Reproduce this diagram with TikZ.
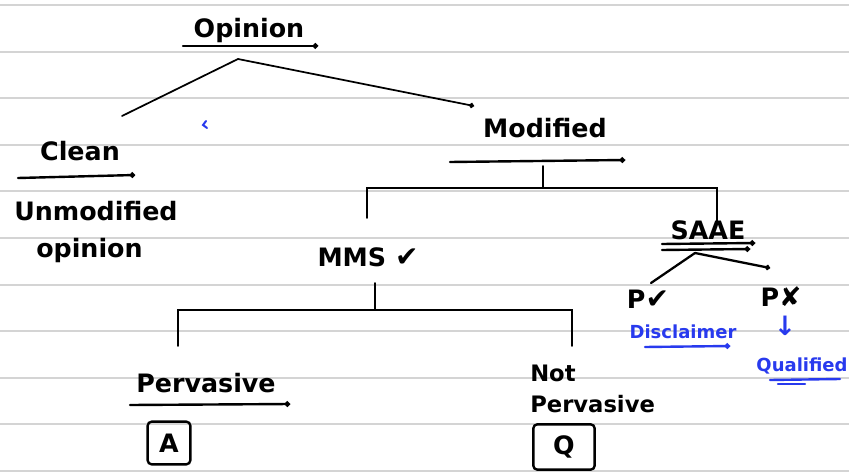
\documentclass[tikz,border=0pt]{standalone}
\usepackage{fontspec}
\setmainfont{DejaVu Sans}
\newfontfamily\symfont{DejaVu Sans}
\usetikzlibrary{arrows.meta}
\definecolor{penblue}{RGB}{40,58,238}
\definecolor{rulegray}{RGB}{212,212,212}
\tikzset{
  word/.style={inner sep=0.75pt, font=\bfseries\fontsize{19}{22}\selectfont},
  blueword/.style={word, text=penblue, font=\bfseries\fontsize{13.5}{15}\selectfont},
  inkline/.style={line width=1.3pt, line cap=round},
  dotline/.style={inkline, -{Circle[length=3.8pt]}},
  underink/.style={line width=1.8pt, line cap=round, -{Circle[length=4pt]}},
  inkbox/.style={word, draw, line width=1.8pt, rounded corners=3pt},
}
\newcommand{\yes}{{\symfont\mdseries\fontsize{21}{22}\selectfont ✔}}
\newcommand{\no}{{\symfont\mdseries\fontsize{20}{22}\selectfont ✘}}
\begin{document}
\begin{tikzpicture}[x=0.75pt,y=0.75pt,yscale=-1,xscale=1]
\fill[white] (0,0) rectangle (849,474);
\useasboundingbox (0,0) rectangle (849,474);

%Ruled paper
\foreach \i in {0,...,10}
  \draw[rulegray, line width=1.5pt] (0,5+46.6*\i) -- (849,5+46.6*\i);

% Text Node
\node[word] (opinion) at (249,31) {Opinion};
% Text Node
\node[word] (clean) at (80,151) {Clean};
% Text Node
\node[word, anchor=west] (unmod) at (13,211) {Unmodified};
% Text Node
\node[word, anchor=west] (unmodop) at (35,251) {opinion};
% Text Node
\node[word] (modified) at (545,128) {Modified};
% Text Node
\node[word] (mmsu) at (368,257) {MMS \yes};
% Text Node
\node[word] (saae) at (708,230) {SAAE};
% Text Node
\node[word] (pyes) at (648,299) {P\yes};
% Text Node
\node[word] (pno) at (781,297) {P\no};
% Text Node
\node[blueword] (disclaimer) at (683,332) {Disclaimer};
% Text Node
\node[blueword] (down) at (785,326) {\symfont\fontsize{20}{22}\selectfont ↓};
% Text Node
\node[blueword] (qualified) at (802,366) {Qualified};
% Text Node
\node[word] (pervasive) at (206,383) {Pervasive};
% Text Node
\node[word, anchor=north west, align=left, font=\bfseries\fontsize{17}{20}\selectfont] (notpervasive) at (529,364) {Not\\[3pt]Pervasive};
%Boxes
\node[inkbox, minimum width=32pt, minimum height=32pt] (adverse) at (169,443) {A};
\node[inkbox, minimum width=46pt, minimum height=34pt] (qualbox) at (564,447) {Q};

%Underlines
\draw[underink] (183,46) -- (318,46);
\draw[underink] (18,178) -- (135,175);
\draw[underink] (450,162) -- (625,160);
\draw[underink] (662,244) -- (755,243);
\draw[underink] (662,250) -- (750,249);
\draw[underink] (130,405) -- (290,404);
\draw[penblue, underink] (645,347) -- (730,346);
\draw[penblue, line width=1.8pt, line cap=round] (770,380) -- (840,379);
\draw[penblue, line width=1.8pt, line cap=round] (778,384) -- (805,384);

%Straight Lines
\coordinate (opfork) at (238,59);
\coordinate (cleanend) at (122,116);
\coordinate (modend) at (474,106);
\draw[inkline] (opfork) -- (cleanend);
\draw[dotline] (opfork) -- (modend);

%Bracket under Modified
\coordinate (modstem) at (543,166);
\coordinate (modfork) at (543,188);
\coordinate (mmsutop) at (367,218);
\coordinate (saaetop) at (717,221);
\draw[inkline] (modstem) -- (modfork);
\draw[inkline] (mmsutop) |- (modfork) -| (saaetop);

%Split under SAAE
\coordinate (saaefork) at (695,253);
\coordinate (pyesend) at (651,283);
\coordinate (pnoend) at (770,268);
\draw[inkline, line width=1.7pt] (saaefork) -- (pyesend);
\draw[dotline, line width=1.7pt] (saaefork) -- (pnoend);

%Bracket under MMS
\coordinate (mmsstem) at (375,283);
\coordinate (mmsfork) at (375,310);
\coordinate (pervtop) at (178,346);
\coordinate (notpervtop) at (572,346);
\draw[inkline] (mmsstem) -- (mmsfork);
\draw[inkline] (pervtop) |- (mmsfork) -| (notpervtop);

%Stray pen mark
\draw[penblue, line width=1.5pt, line cap=round] (206,121) -- (203,125) -- (207,128);

\end{tikzpicture}
\end{document}
